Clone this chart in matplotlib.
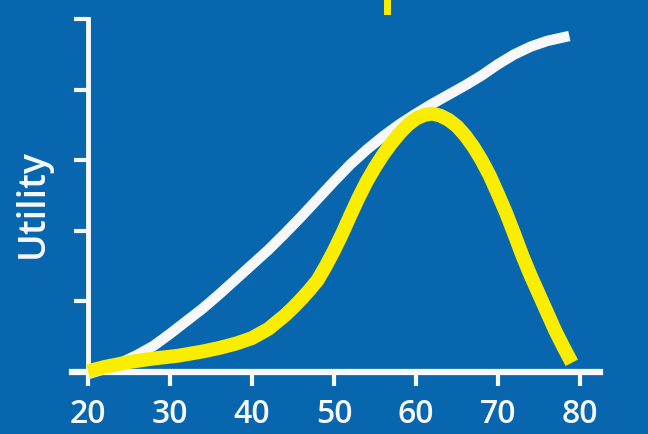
import numpy as np
import matplotlib
matplotlib.use("Agg")
import matplotlib.pyplot as plt
from matplotlib.lines import Line2D

# white curve (utility rising with x)
white_x = [20, 22, 24, 26, 28, 30, 32, 34, 36, 38, 40, 42, 44, 46, 48, 50, 52, 54, 56, 58,
           60, 62, 64, 66, 68, 70, 72, 74, 76, 78.7]
white_y = [-0.03, 0.04, 0.13, 0.24, 0.37, 0.54, 0.72, 0.90, 1.10, 1.31, 1.52, 1.73, 1.96, 2.20, 2.45,
           2.70, 2.94, 3.15, 3.34, 3.51, 3.66, 3.80, 3.93, 4.06, 4.20, 4.36, 4.50, 4.61, 4.69, 4.76]

# yellow curve (bell shape)
yellow_x = [20, 22, 25, 28, 31, 34, 36, 38, 40, 42, 44, 45, 46, 47, 48, 49, 50, 51, 52, 53, 54,
            55, 56, 57, 58, 59, 60, 61, 62, 63, 64, 65, 66, 67, 68, 69, 70, 71, 72, 73, 74,
            75, 76, 77, 78, 79]
yellow_y = [0.01, 0.07, 0.14, 0.19, 0.23, 0.29, 0.34, 0.40, 0.48, 0.61, 0.80, 0.91, 1.03, 1.16,
            1.30, 1.50, 1.72, 1.96, 2.22, 2.47, 2.70, 2.90, 3.08, 3.24, 3.38, 3.50, 3.59, 3.64,
            3.66, 3.63, 3.57, 3.48, 3.35, 3.19, 3.00, 2.78, 2.52, 2.25, 1.95, 1.64, 1.36, 1.10,
            0.84, 0.58, 0.35, 0.13]

xticks = [20, 30, 40, 50, 60, 70, 80]
yticks = [0, 1, 2, 3, 4, 5]

bg = "#0866ae"
yellow = "#fbed00"
white = "#f7f8fa"

plt.rcParams['font.family'] = ['Open Sans', 'DejaVu Sans']

fig = plt.figure(figsize=(6.48, 4.35), dpi=100, facecolor=bg)
ax = fig.add_axes([72 / 648, 55 / 435, 528 / 648, 367 / 435])
ax.set_facecolor(bg)

ax.plot(white_x, white_y, color=white, lw=7.5, solid_capstyle='butt', solid_joinstyle='round', zorder=3)
ax.plot(yellow_x, yellow_y, color=yellow, lw=10, solid_capstyle='butt', solid_joinstyle='round', zorder=4)

ax.set_xlim(18.05, 82.44)
ax.set_ylim(-0.1, 5.1)

for s in ['top', 'right']:
    ax.spines[s].set_visible(False)
ax.spines['left'].set_position(('data', 20))
ax.spines['left'].set_bounds(0, 5)
ax.spines['bottom'].set_position(('data', 0))
ax.spines['left'].set_color(white)
ax.spines['bottom'].set_color(white)
ax.spines['left'].set_linewidth(3.5)
ax.spines['bottom'].set_linewidth(4.5)
ax.spines['bottom'].set_zorder(2)

ax.set_xticks(xticks)
ax.set_yticks(yticks)
ax.set_yticklabels([])
ax.tick_params(axis='x', direction='out', length=10, width=3, color=white,
               labelcolor=white, labelsize=23, pad=8)
for lbl in ax.get_xticklabels():
    lbl.set_fontweight('semibold')
ax.tick_params(axis='y', direction='out', length=10, width=3, color=white)

ax.set_ylabel("Utility", color=white, fontsize=27, fontweight='semibold')
ax.yaxis.set_label_coords(-0.038, 0.48)

# bit of yellow marker at the top edge
fig.add_artist(Line2D([0.5965, 0.5965], [0.972, 1.0], color=yellow, lw=5))

fig.savefig("out.png", dpi=100, facecolor=bg)
